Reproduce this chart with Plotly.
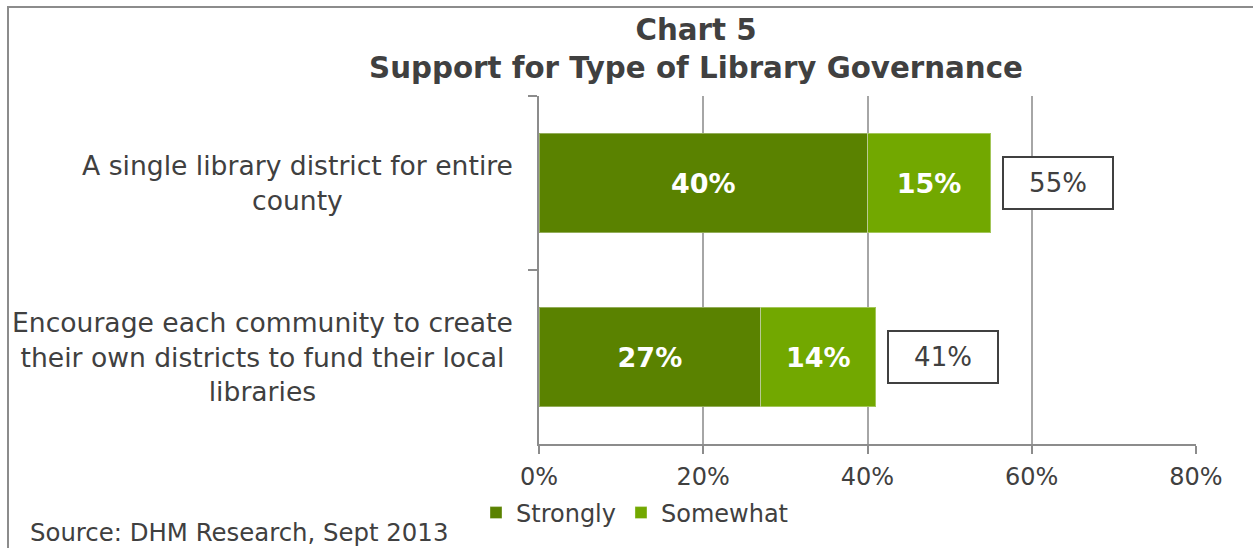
import plotly.graph_objects as go

# Survey data: share of respondents supporting each governance option
categories = [
    "A single library district for entire<br>county",
    "Encourage each community to create<br>their own districts to fund their local<br>libraries",
]
strongly = [40, 27]
somewhat = [15, 14]
totals = [55, 41]
x_ticks = [0, 20, 40, 60, 80]
x_tick_labels = ["0%", "20%", "40%", "60%", "80%"]

DARK_GREEN = "#5a8200"
LIGHT_GREEN = "#72a800"
TEXT = "#404040"
AXIS = "#8c8c8c"
FONT = "DejaVu Sans"

W, H = 1253, 548
L, R, T, B = 539, 57, 96, 104
PW, PH = W - L - R, H - T - B


def px_x(p):
    return (p - L) / PW


def px_y(p):
    return (H - B - p) / PH


fig = go.Figure()
fig.add_trace(go.Bar(
    name="Strongly", y=categories, x=strongly, orientation="h",
    marker=dict(color=DARK_GREEN, line=dict(color="rgba(255,255,255,0.35)", width=1)),
    texttemplate="%{x:.0f}%", textposition="inside", insidetextanchor="middle",
    textfont=dict(family=FONT, size=27, color="white", weight="bold"),
    width=0.57,
))
fig.add_trace(go.Bar(
    name="Somewhat", y=categories, x=somewhat, orientation="h",
    marker=dict(color=LIGHT_GREEN, line=dict(color="rgba(255,255,255,0.35)", width=1)),
    texttemplate="%{x:.0f}%", textposition="inside", insidetextanchor="middle",
    textfont=dict(family=FONT, size=27, color="white", weight="bold"),
    width=0.57,
))

annotations = []
# Category labels, centred line by line to the left of the axis
for cat in categories:
    annotations.append(dict(
        x=0, xref="paper", y=cat, yref="y", xanchor="right", yanchor="middle",
        xshift=-24, text=cat, align="center", showarrow=False,
        font=dict(family=FONT, size=26.6, color=TEXT),
    ))
# Boxed totals next to each stacked bar
for cat, tot in zip(categories, totals):
    annotations.append(dict(
        x=tot, xref="x", y=cat, yref="y", xanchor="left", yanchor="middle",
        xshift=11, text=f"{tot}%", showarrow=False,
        font=dict(family=FONT, size=26, color=TEXT),
        bordercolor=TEXT, borderwidth=2, borderpad=4, width=100, height=42,
        bgcolor="white",
    ))
annotations.append(dict(
    x=px_x(28), xref="paper", y=px_y(532), yref="paper",
    xanchor="left", yanchor="middle", showarrow=False,
    text="Source: DHM Research, Sept 2013",
    font=dict(family=FONT, size=24.4, color=TEXT),
))

# Outer chart frame (left and top edges)
frame = dict(
    type="path", xref="paper", yref="paper",
    path=f"M {px_x(8)},{px_y(560)} L {px_x(8)},{px_y(7)} L {px_x(1260)},{px_y(7)}",
    line=dict(color=AXIS, width=2),
)

fig.update_layout(
    width=W, height=H,
    margin=dict(l=L, r=R, t=T, b=B, autoexpand=False),
    paper_bgcolor="white", plot_bgcolor="white",
    barmode="stack",
    title=dict(
        text="Chart 5<br>Support for Type of Library Governance",
        xref="container", x=696 / W, xanchor="center",
        yref="container", y=1 - 40 / H, yanchor="middle",
        font=dict(family=FONT, size=29.3, color=TEXT, weight="bold"),
    ),
    xaxis=dict(
        range=[0, 80], tickvals=x_ticks, ticktext=x_tick_labels,
        showgrid=True, gridcolor="#a6a6a6", gridwidth=2,
        showline=True, linecolor=AXIS, linewidth=2,
        ticks="outside", ticklen=8, tickwidth=2, tickcolor=AXIS,
        tickfont=dict(family=FONT, size=24, color=TEXT),
        zeroline=False, ticklabelstandoff=2,
    ),
    yaxis=dict(
        type="category", categoryorder="array", categoryarray=categories,
        autorange="reversed",
        showline=True, linecolor=AXIS, linewidth=2,
        ticks="outside", ticklen=9, tickwidth=2, tickcolor=AXIS,
        tickson="boundaries", showticklabels=False, showgrid=False,
    ),
    legend=dict(
        orientation="h", xref="paper", x=px_x(476), xanchor="left",
        yref="paper", y=px_y(513), yanchor="middle", traceorder="normal",
        font=dict(family=FONT, size=24, color=TEXT),
        itemwidth=30, tracegroupgap=0,
    ),
    annotations=annotations,
    shapes=[frame],
    showlegend=True,
)

fig.write_html("out.html")
